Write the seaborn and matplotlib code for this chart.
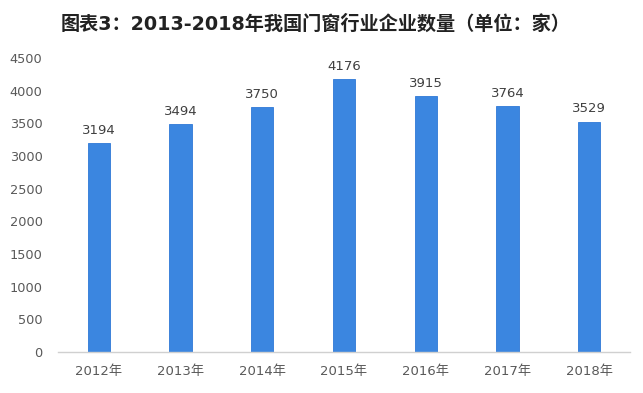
import matplotlib
matplotlib.use("Agg")
import matplotlib.pyplot as plt
import seaborn as sns
import pandas as pd

years = ["2012年", "2013年", "2014年", "2015年", "2016年", "2017年", "2018年"]
counts = [3194, 3494, 3750, 4176, 3915, 3764, 3529]
yticks = [0, 500, 1000, 1500, 2000, 2500, 3000, 3500, 4000, 4500]

sns.set_style("white")
plt.rcParams['font.family'] = ['DejaVu Sans', 'Noto Sans CJK SC']

df = pd.DataFrame({"year": years, "count": counts})

fig = plt.figure(figsize=(6.43, 3.93), dpi=100)
ax = fig.add_axes([0.090, 0.104, 0.890, 0.748])
sns.barplot(data=df, x="year", y="count", color="#3b86e0", width=0.27,
            saturation=1, ax=ax, edgecolor="#2f78d6", linewidth=0.6)

for i, v in enumerate(counts):
    ax.text(i, v + 95, str(v), ha="center", va="bottom", fontsize=9.5, color="#404040")

ax.set_ylim(0, 4500)
ax.set_yticks(yticks)
ax.set_yticklabels([str(t) for t in yticks], fontsize=9.3, color="#595959")
ax.tick_params(axis="x", labelsize=9.5, labelcolor="#595959", length=0, pad=9)
ax.tick_params(axis="y", length=0, pad=11)
ax.set_xlabel("")
ax.set_ylabel("")
for s in ["top", "right", "left"]:
    ax.spines[s].set_visible(False)
ax.spines["bottom"].set_color("#d0d0d0")
ax.spines["bottom"].set_linewidth(1)
ax.set_xlim(-0.5, 6.5)

fig.text(0.49, 0.938, "图表3：2013-2018年我国门窗行业企业数量（单位：家）",
         ha="center", va="center", fontsize=13.8, fontweight="bold", color="#222222")

fig.savefig("out.png", dpi=100)
